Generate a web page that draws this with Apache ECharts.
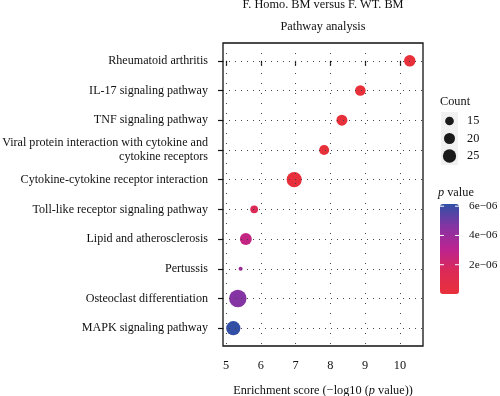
<!DOCTYPE html>
<html>
<head>
<meta charset="utf-8">
<script src="https://cdn.jsdelivr.net/npm/echarts@6/dist/echarts.min.js"></script>
<style>
  html, body { margin: 0; padding: 0; background: #fff; }
  #chart { width: 500px; height: 396px; }
</style>
</head>
<body>
<div id="chart"></div>
<script>
// pathways, top to bottom
const categories = [
  'Rheumatoid arthritis',
  'IL-17 signaling pathway',
  'TNF signaling pathway',
  'Viral protein interaction with cytokine and\ncytokine receptors',
  'Cytokine-cytokine receptor interaction',
  'Toll-like receptor signaling pathway',
  'Lipid and atherosclerosis',
  'Pertussis',
  'Osteoclast differentiation',
  'MAPK signaling pathway'
];
const enrichment = [10.28, 8.86, 8.33, 7.82, 6.96, 5.81, 5.57, 5.42, 5.34, 5.21];
const counts = [21, 19, 20, 18, 29, 13, 22, 5, 34, 27];
const pValues = [5.2e-11, 1.4e-9, 4.7e-9, 1.5e-8, 1.1e-7, 1.5e-6, 2.7e-6, 3.8e-6, 4.6e-6, 6.1e-6];
const xTicks = [5, 6, 7, 8, 9, 10];
const countLegend = [15, 20, 25];
const pTicks = [6e-6, 4e-6, 2e-6];
const pTickLabels = ['6e\u221206', '4e\u221206', '2e\u221206'];

const FONT = "'Liberation Serif', 'DejaVu Serif', serif";
const pMax = 6.15e-6;
const colorStops = ['#e8303a', '#dc2a57', '#bb2490', '#8534a3', '#3050a5'];

// diameter for a count (same scale in plot and legend)
function dotSize(c) {
  return 0.46 * c + 1.8;
}

const chart = echarts.init(document.getElementById('chart'));

const points = categories.map(function (c, i) {
  return [enrichment[i], i, pValues[i], counts[i]];
});

// colour bar box
const bar = { x: 440, y: 204, w: 19, h: 90 };

const graphics = [
  { type: 'text', x: 323, y: 5, style: { text: 'F. Homo. BM versus F. WT. BM', font: '12.3px ' + FONT, fill: '#111', align: 'center', verticalAlign: 'middle' } },
  { type: 'text', x: 323, y: 27, style: { text: 'Pathway analysis', font: '12.3px ' + FONT, fill: '#111', align: 'center', verticalAlign: 'middle' } },
  // Count legend
  { type: 'text', x: 440, y: 102, style: { text: 'Count', font: '12.3px ' + FONT, fill: '#111', verticalAlign: 'middle' } },
  { type: 'rect', shape: { x: 441, y: 112, width: 17, height: 53 }, style: { fill: '#f1f1f1' } },
  // p value legend
  { type: 'text', x: 438, y: 193, style: {
      rich: { i: { font: 'italic 12.3px ' + FONT, fill: '#111' }, n: { font: '12.3px ' + FONT, fill: '#111' } },
      text: '{i|p}{n| value}', verticalAlign: 'middle' } }
];

countLegend.forEach(function (c, k) {
  const cy = 121 + k * 17.5;
  graphics.push({ type: 'circle', shape: { cx: 449.5, cy: cy, r: dotSize(c) / 2 }, style: { fill: '#1a1a1a' } });
  graphics.push({ type: 'text', x: 467, y: cy, style: { text: String(c), font: '12.3px ' + FONT, fill: '#111', verticalAlign: 'middle' } });
});

pTicks.forEach(function (v, k) {
  const ty = bar.y + (pMax - v) / pMax * bar.h;
  graphics.push({ type: 'line', shape: { x1: bar.x, y1: ty, x2: bar.x + 4, y2: ty }, style: { stroke: '#fff', lineWidth: 1 }, z: 100 });
  graphics.push({ type: 'line', shape: { x1: bar.x + bar.w - 4, y1: ty, x2: bar.x + bar.w, y2: ty }, style: { stroke: '#fff', lineWidth: 1 }, z: 100 });
  graphics.push({ type: 'text', x: 469, y: ty, style: { text: pTickLabels[k], font: '11.3px ' + FONT, fill: '#111', verticalAlign: 'middle' } });
});

chart.setOption({
  animation: false,
  backgroundColor: '#fff',
  textStyle: { fontFamily: FONT },
  grid: {
    left: 223, right: 77, top: 43, bottom: 50,
    outerBoundsMode: 'none',
    containLabel: false,
    show: true, borderColor: '#111', borderWidth: 1.3, backgroundColor: 'transparent'
  },
  xAxis: {
    type: 'value',
    min: 4.914,
    max: 10.661,
    splitLine: { show: false },
    axisLine: { show: false },
    axisTick: { show: true, length: 5, customValues: xTicks, lineStyle: { color: '#111', width: 1.2 } },
    axisLabel: { customValues: xTicks, margin: 14, color: '#111', fontSize: 12.3, fontFamily: FONT },
    name: '{n|Enrichment score (\u2212log10 (}{i|p}{n| value))}',
    nameLocation: 'middle',
    nameGap: 39,
    nameTextStyle: {
      rich: {
        n: { fontSize: 12.3, fontFamily: FONT, color: '#111' },
        i: { fontSize: 12.3, fontFamily: FONT, fontStyle: 'italic', color: '#111' }
      }
    }
  },
  yAxis: {
    type: 'value',
    inverse: true,
    min: -0.6,
    max: 9.6,
    splitLine: { show: false },
    axisLine: { show: false },
    axisTick: { show: true, length: 5, customValues: categories.map(function (c, i) { return i; }), lineStyle: { color: '#111', width: 1.2 } },
    axisLabel: {
      customValues: categories.map(function (c, i) { return i; }),
      formatter: function (v) { return categories[Math.round(v)]; },
      margin: 15, color: '#111', fontSize: 12.1, fontFamily: FONT, lineHeight: 14, align: 'right'
    }
  },
  visualMap: {
    type: 'continuous',
    seriesIndex: 1,
    dimension: 2,
    min: 0,
    max: pMax,
    calculable: false,
    show: true,
    orient: 'vertical',
    padding: 0,
    left: bar.x,
    top: bar.y,
    itemWidth: bar.w,
    itemHeight: bar.h,
    text: null,
    showLabel: false,
    inRange: { color: colorStops }
  },
  graphic: graphics,
  series: [
    {
      // dotted grid lines
      type: 'scatter',
      data: [],
      silent: true,
      z: 1,
      markLine: {
        silent: true,
        symbol: 'none',
        label: { show: false },
        animation: false,
        data: categories.map(function (c, i) {
          return { yAxis: i, lineStyle: { color: '#444', width: 1, type: [1, 5] } };
        }).concat(xTicks.map(function (v) {
          return { xAxis: v, lineStyle: { color: '#444', width: 1, type: [1, 9] } };
        }))
      }
    },
    {
      type: 'scatter',
      z: 3,
      data: points,
      symbolSize: function (d) { return dotSize(d[3]); },
      itemStyle: { opacity: 1 }
    }
  ]
});
</script>
</body>
</html>
